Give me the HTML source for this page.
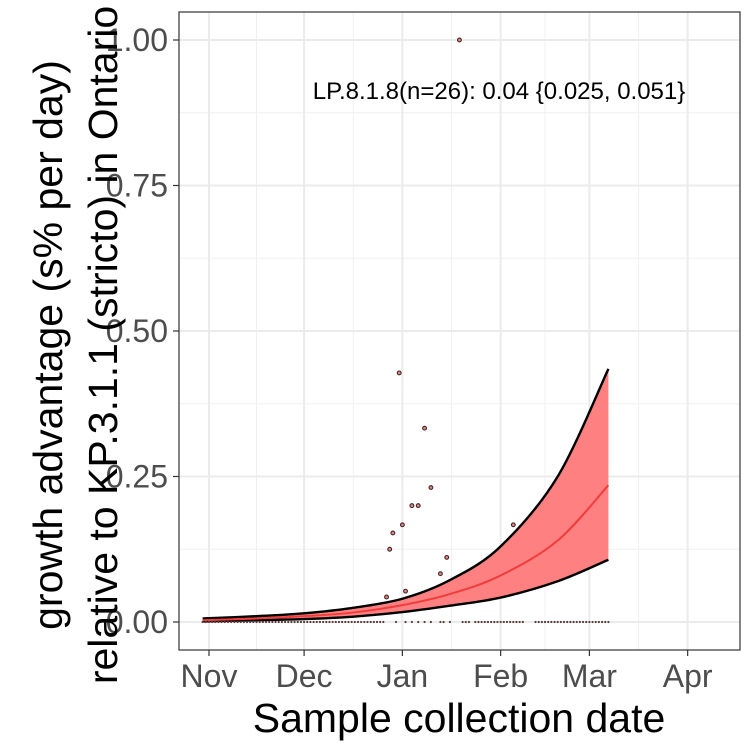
<!DOCTYPE html>
<html><head><meta charset="utf-8"><style>
body{margin:0;background:#fff}
svg{display:block;font-family:"Liberation Sans",sans-serif}
</style></head><body>
<svg id="chart" width="750" height="750">
<rect x="0" y="0" width="750" height="750" fill="#fff"/>
<g id="grid"></g>
<g id="band"></g>
<g id="pts"></g>
<rect x="179" y="12" width="561" height="638" fill="none" stroke="#333" stroke-width="1.2"/>
<g id="axes"></g>
<text x="499" y="99" font-size="24" text-anchor="middle" fill="#000">LP.8.1.8(n=26): 0.04 {0.025, 0.051}</text>
<text x="459" y="732" font-size="41" text-anchor="middle" fill="#000">Sample collection date</text>
<text transform="translate(62,345) rotate(-90)" font-size="41" text-anchor="middle" fill="#000"><tspan x="0" dy="0">growth advantage (s% per day)</tspan><tspan x="0" dy="55">relative to KP.3.1.1 (stricto) in Ontario</tspan></text>
</svg>
<script>
// days since Nov 1
const monthLabels=["Nov","Dec","Jan","Feb","Mar","Apr"];
const monthDays=[0,30,61,92,120,151];
const yTicks=[0,0.25,0.5,0.75,1.0];
const yTickLabels=["0.00","0.25","0.50","0.75","1.00"];
const curveDays=[-2,15,30,45,61,76,92,110,126];
const meanVals=[0.003,0.006,0.010,0.016,0.029,0.048,0.08,0.14,0.235];
const upperVals=[0.006,0.010,0.015,0.024,0.040,0.072,0.13,0.25,0.435];
const lowerVals=[0.001,0.003,0.005,0.009,0.017,0.028,0.042,0.07,0.107];
const obsDays=[60,68,70,64,66,61,58,57,75,73,62,56,96,79];
const obsVals=[0.428,0.333,0.231,0.2,0.2,0.167,0.153,0.125,0.111,0.083,0.053,0.043,0.167,1.0];
const zeroDays=[-2,-1,0,1,2,3,4,5,6,7,8,9,10,11,12,13,14,15,16,17,18,19,20,21,22,23,24,25,26,27,28,29,30,31,32,33,34,35,36,37,38,39,40,41,42,43,44,45,46,47,48,49,50,51,52,53,54,55,59,62,64,66,68,70,73,74,76,80,81,82,84,85,86,87,88,89,90,91,92,93,94,95,96,97,98,99,103,104,105,106,107,108,109,110,111,112,113,114,115,116,117,118,119,120,121,122,123,124,125,126];
const NS="http://www.w3.org/2000/svg";
const X=d=>209+d*3.17, Y=v=>622-v*582;
function mk(t,a,p){const e=document.createElementNS(NS,t);for(const k in a)e.setAttribute(k,a[k]);p.appendChild(e);return e;}
const grid=document.getElementById('grid'),axes=document.getElementById('axes');
const minorX=[];for(let i=0;i<monthDays.length-1;i++)minorX.push((monthDays[i]+monthDays[i+1])/2);
minorX.forEach(d=>{const l=mk('line',{x1:X(d),x2:X(d),y1:12,y2:650,stroke:'#f0f0f0','stroke-width':1},grid);

});
for(let i=0;i<yTicks.length-1;i++){const v=(yTicks[i]+yTicks[i+1])/2;const l=mk('line',{x1:179,x2:740,y1:Y(v),y2:Y(v),stroke:'#f0f0f0','stroke-width':1},grid);

}
monthDays.forEach((d,i)=>{const l=mk('line',{x1:X(d),x2:X(d),y1:12,y2:650,stroke:'#ebebeb','stroke-width':2},grid);


const t=mk('line',{x1:X(d),x2:X(d),y1:650,y2:656,stroke:'#333','stroke-width':1.2},axes);


const tx=mk('text',{x:X(d),y:687,'font-size':32,'text-anchor':'middle',fill:'#4d4d4d'},axes);tx.textContent=monthLabels[i];

});
yTicks.forEach((v,i)=>{const l=mk('line',{x1:179,x2:740,y1:Y(v),y2:Y(v),stroke:'#ebebeb','stroke-width':2},grid);


const t=mk('line',{x1:173,x2:179,y1:Y(v),y2:Y(v),stroke:'#333','stroke-width':1.2},axes);


const tx=mk('text',{x:168,y:Y(v)+11,'font-size':32,'text-anchor':'end',fill:'#4d4d4d'},axes);tx.textContent=yTickLabels[i];

});
const band=document.getElementById('band');
function smooth(vals,rev){let p=curveDays.map((d,i)=>[X(d),Y(vals[i])]);if(rev)p=p.reverse();
let s='';for(let i=0;i<p.length-1;i++){const p0=p[Math.max(0,i-1)],p1=p[i],p2=p[i+1],p3=p[Math.min(p.length-1,i+2)];
const c1=[p1[0]+(p2[0]-p0[0])/6,p1[1]+(p2[1]-p0[1])/6],c2=[p2[0]-(p3[0]-p1[0])/6,p2[1]-(p3[1]-p1[1])/6];
s+=' C'+c1+' '+c2+' '+p2;}return {start:p[0],segs:s};}
const u=smooth(upperVals,false),lr=smooth(lowerVals,true),l=smooth(lowerVals,false),m=smooth(meanVals,false);
const poly=mk('path',{d:'M'+u.start+u.segs+' L'+lr.start+lr.segs+'Z',fill:'#ff8080',stroke:'none'},band);


const up=mk('path',{d:'M'+u.start+u.segs,fill:'none',stroke:'#000','stroke-width':2.4},band);


const lo=mk('path',{d:'M'+l.start+l.segs,fill:'none',stroke:'#000','stroke-width':2.4},band);


const mn=mk('path',{d:'M'+m.start+m.segs,fill:'none',stroke:'#f03c3c','stroke-width':2},band);


const pts=document.getElementById('pts');
zeroDays.forEach(d=>{const c=mk('circle',{cx:X(d),cy:Y(0),r:1.1,fill:'#5a3a3a'},pts);

});
obsDays.forEach((d,i)=>{const c=mk('circle',{cx:X(d),cy:Y(obsVals[i]),r:1.9,fill:'#f08080',stroke:'#3a2a2a','stroke-width':1.1},pts);

});
</script>
</body></html>
